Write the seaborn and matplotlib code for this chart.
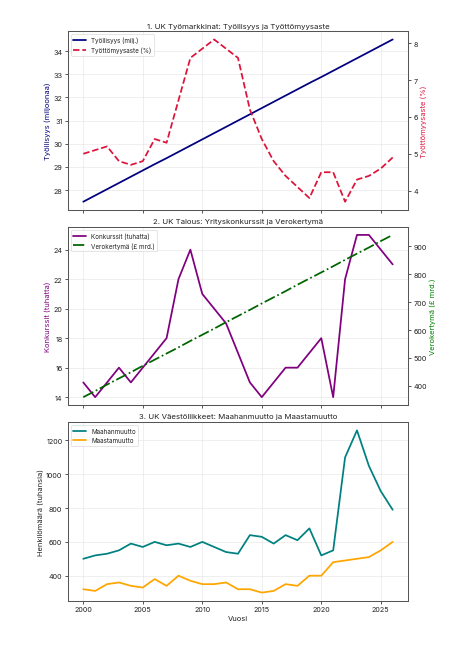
import numpy as np
import pandas as pd
import matplotlib
matplotlib.use("Agg")
import matplotlib.pyplot as plt
import seaborn as sns

# Data
years = list(range(2000, 2027))

employment = [27.5, 27.77, 28.04, 28.31, 28.58, 28.85, 29.12, 29.38, 29.65, 29.92,
              30.19, 30.46, 30.73, 31.0, 31.27, 31.54, 31.81, 32.08, 32.35, 32.62,
              32.88, 33.15, 33.42, 33.69, 33.96, 34.23, 34.5]
unemployment = [5.0, 5.1, 5.2, 4.8, 4.7, 4.8, 5.4, 5.3, 6.45, 7.6,
                7.85, 8.1, 7.85, 7.6, 6.2, 5.4, 4.8, 4.4, 4.1, 3.8,
                4.5, 4.5, 3.7, 4.3, 4.4, 4.6, 4.9]

bankruptcies = [15, 14, 15, 16, 15, 16, 17, 18, 22, 24,
                21, 20, 19, 17, 15, 14, 15, 16, 16, 17,
                18, 14, 22, 25, 25, 24, 23]
tax_revenue = [360, 382, 405, 427, 449, 472, 494, 516, 538, 561,
               583, 605, 628, 650, 672, 695, 717, 739, 762, 784,
               806, 828, 851, 873, 895, 918, 940]

immigration = [500, 520, 530, 550, 590, 570, 600, 580, 590, 570,
               600, 570, 540, 530, 640, 630, 590, 640, 610, 680,
               520, 550, 1100, 1260, 1050, 900, 790]
emigration = [320, 310, 350, 360, 340, 330, 380, 340, 400, 370,
              350, 350, 360, 320, 320, 300, 310, 350, 340, 400,
              400, 480, 490, 500, 510, 550, 600]

df = pd.DataFrame({
    "Vuosi": years,
    "employment": employment,
    "unemployment": unemployment,
    "bankruptcies": bankruptcies,
    "tax": tax_revenue,
    "immigration": immigration,
    "emigration": emigration,
})

sns.set_theme(style="whitegrid")
plt.rcParams.update({
    "font.family": ["Inter", "DejaVu Sans"],
    "axes.edgecolor": "#555555",
    "axes.linewidth": 1.6,
    "grid.color": "#e4e4e4",
    "grid.linewidth": 0.9,
    "xtick.bottom": True,
    "ytick.left": True,
    "xtick.color": "#222222",
    "ytick.color": "#222222",
    "text.color": "#222222",
    "axes.labelcolor": "#222222",
    "xtick.major.size": 5,
    "ytick.major.size": 5,
    "xtick.major.width": 1.2,
    "ytick.major.width": 1.2,
})

fig, axes = plt.subplots(3, 1, figsize=(10, 14.314), dpi=45.2)
fig.subplots_adjust(left=0.15, right=0.903, top=0.95, bottom=0.07, hspace=0.095)
ax1, ax2, ax3 = axes

LW = 2.8

# 1. Labour market
sns.lineplot(data=df, x="Vuosi", y="employment", ax=ax1, color="navy",
             linewidth=LW, label="Työllisyys (milj.)", legend=False)
ax1b = ax1.twinx()
sns.lineplot(data=df, x="Vuosi", y="unemployment", ax=ax1b, color="crimson",
             linewidth=LW, linestyle="--", label="Työttömyysaste (%)", legend=False)
ax1.set_title("1. UK Työmarkkinat: Työllisyys ja Työttömyysaste", fontsize=12.5)
ax1.set_ylabel("Työllisyys (miljoonaa)", color="navy", fontsize=12)
ax1b.set_ylabel("Työttömyysaste (%)", color="crimson", fontsize=12)
ax1b.grid(False)
ax1b.tick_params(axis="y", right=True, length=5, width=1.2)

# 2. Economy
sns.lineplot(data=df, x="Vuosi", y="bankruptcies", ax=ax2, color="purple",
             linewidth=LW, label="Konkurssit (tuhatta)", legend=False)
ax2b = ax2.twinx()
sns.lineplot(data=df, x="Vuosi", y="tax", ax=ax2b, color="darkgreen",
             linewidth=LW, linestyle="-.", label="Verokertymä (£ mrd.)", legend=False)
ax2.set_title("2. UK Talous: Yrityskonkurssit ja Verokertymä", fontsize=12.5)
ax2.set_ylabel("Konkurssit (tuhatta)", color="purple", fontsize=12)
ax2b.set_ylabel("Verokertymä (£ mrd.)", color="green", fontsize=12)
ax2b.grid(False)
ax2b.tick_params(axis="y", right=True, length=5, width=1.2)

# 3. Migration
sns.lineplot(data=df, x="Vuosi", y="immigration", ax=ax3, color="teal",
             linewidth=LW, label="Maahanmuutto")
sns.lineplot(data=df, x="Vuosi", y="emigration", ax=ax3, color="orange",
             linewidth=LW, label="Maastamuutto")
ax3.set_title("3. UK Väestöliikkeet: Maahanmuutto ja Maastamuutto", fontsize=12.5)
ax3.set_ylabel("Henkilömäärä (tuhansia)", fontsize=12)
ax3.set_xlabel("Vuosi", fontsize=12)
ax3.legend(loc="upper left", fontsize=10, frameon=True)

xticks = [2000, 2005, 2010, 2015, 2020, 2025]
for ax in (ax1, ax2, ax3):
    ax.set_xticks(xticks)
    ax.tick_params(labelsize=11.5)
for ax in (ax1b, ax2b):
    ax.tick_params(labelsize=11.5)
for ax in (ax1, ax2):
    ax.set_xlabel("")
    ax.tick_params(axis="x", labelbottom=False)
ax3.set_xticklabels([str(x) for x in xticks])

# combined legends for twin axes
for a, b in ((ax1, ax1b), (ax2, ax2b)):
    h1, l1 = a.get_legend_handles_labels()
    h2, l2 = b.get_legend_handles_labels()
    a.legend(h1 + h2, l1 + l2, loc="upper left", fontsize=10, frameon=True)

fig.savefig("out.png", dpi=45.2)
